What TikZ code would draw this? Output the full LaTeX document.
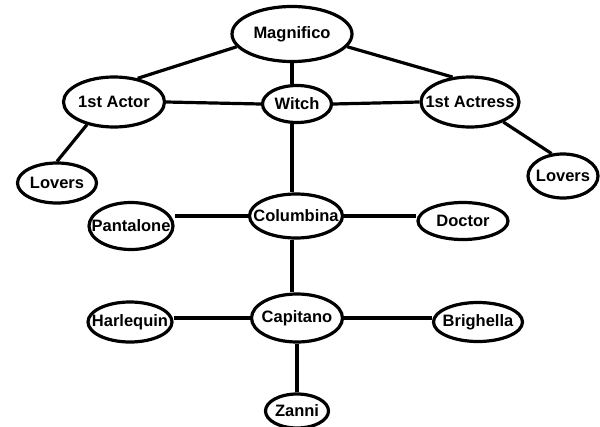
\documentclass[tikz,border=0pt]{standalone}
\usepackage{fontspec}
\setmainfont{Liberation Sans}
\usetikzlibrary{shapes.geometric}

\newcommand{\rolename}[1]{\makebox[0pt]{#1}}

\begin{document}
\begin{tikzpicture}[x=1pt,y=-1pt,
	role/.style={ellipse,draw,line width=3.2pt,inner sep=0pt,
		font=\fontsize{16.5}{19}\selectfont\bfseries},
	link/.style={line width=3.2pt}]

	\useasboundingbox (0,0) rectangle (600,426);

	\node[role,minimum width=120pt,minimum height=55pt] (mag) at (292,34) {\rolename{Magnifico}};
	\node[role,minimum width=101pt,minimum height=50pt] (actor) at (114,102) {\rolename{1st Actor}};
	\node[role,minimum width=69pt,minimum height=37pt] (witch) at (297,104) {\rolename{Witch}};
	\node[role,minimum width=98pt,minimum height=50pt] (actress) at (470,102) {\rolename{1st Actress}};
	\node[role,minimum width=79pt,minimum height=40pt] (lovl) at (57,183) {\rolename{Lovers}};
	\node[role,minimum width=70pt,minimum height=44pt] (lovr) at (563,176) {\rolename{Lovers}};

	\node[role,minimum width=93pt,minimum height=44pt] (colu) at (296,216) {\rolename{Columbina}};
	\node[role,minimum width=84pt,minimum height=47pt] (pant) at (131,226) {\rolename{Pantalone}};
	\node[role,minimum width=90pt,minimum height=37pt] (doc) at (463,221) {\rolename{Doctor}};

	\node[role,minimum width=91pt,minimum height=48pt] (capi) at (297,318) {\rolename{Capitano}};
	\node[role,minimum width=84pt,minimum height=40pt] (harl) at (130,322) {\rolename{Harlequin}};
	\node[role,minimum width=89pt,minimum height=39pt] (brig) at (478,322) {\rolename{Brighella}};
	\node[role,minimum width=63pt,minimum height=34pt] (zanni) at (297,411) {\rolename{Zanni}};

	\draw[link] (mag.193) -- (actor.45);
	\draw[link] (mag.347) -- (actress.125);
	\draw[link] (mag.south) -- (mag.south |- witch.north);
	\draw[link] (actor.east) -- (witch.west);
	\draw[link] (witch.east) -- (actress.west);
	\draw[link] (actor.220) -- (lovl.north);
	\draw[link] (actress.329) -- (lovr.117);

	\draw[link] (mag.south |- witch.south) -- (mag.south |- colu.north);
	\draw[link] (colu.west -| pant.east) -- (colu.west);
	\draw[link] (colu.east) -- (colu.east -| doc.west);

	\draw[link] (mag.south |- colu.south) -- (mag.south |- capi.north);
	\draw[link] (capi.west -| harl.east) -- (capi.west);
	\draw[link] (capi.east) -- (capi.east -| brig.west);
	\draw[link] (capi.south) -- (zanni.north);
\end{tikzpicture}
\end{document}
